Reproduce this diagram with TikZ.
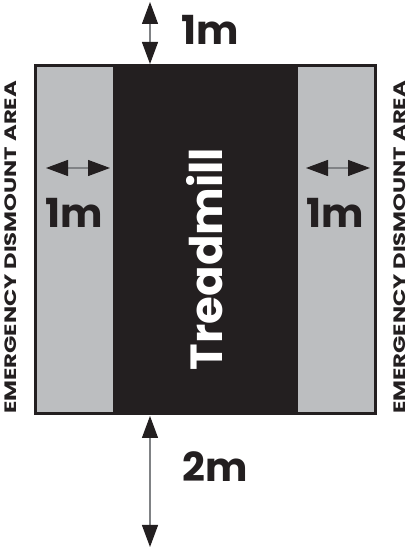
\documentclass[tikz,border=0pt]{standalone}
\usepackage{fontspec}
\usepackage{graphicx}
\setmainfont{Poppins}
\usetikzlibrary{arrows.meta,positioning}
\definecolor{lanegray}{HTML}{BCBEC0}
\definecolor{beltblack}{HTML}{231F20}
\definecolor{linegray}{HTML}{808285}
\tikzset{
  dimtip/.tip={Triangle[length=22pt,width=16pt,color=beltblack]},
  dimarrow/.style={draw=linegray, line width=1.2pt, dimtip-dimtip},
  lane/.style={fill=lanegray, inner sep=0pt, minimum height=348pt},
  bigtext/.style={font=\fontsize{40}{40}\selectfont\bfseries, text=beltblack, inner sep=0pt},
  sidetext/.style={font=\fontsize{16.5}{16.5}\selectfont\bfseries, text=beltblack, rotate=90, inner sep=0pt},
}
\newcommand{\widen}[1]{\scalebox{1.38}[1]{#1}}
\begin{document}
\begin{tikzpicture}[x=1pt,y=1pt]
  \useasboundingbox (0,0) rectangle (412,548);
  %%% floor area
  \node[lane, minimum width=340pt, anchor=south west] (area) at (35,134) {};
  \node[fill=beltblack, inner sep=0pt, minimum width=185pt, minimum height=348pt, anchor=south west] (belt) at (113,134) {};
  \draw[beltblack, line width=3pt] (area.south west) rectangle (area.north east);
  \node[rotate=90, font=\fontsize{45}{45}\selectfont\bfseries, text=white] (tread) at (205,289) {Treadmill};
  %%% clearances
  \coordinate (topend) at (150,546);
  \coordinate (topbox) at (150,484);
  \draw[dimarrow] (topend) -- (topbox);
  \node[bigtext, anchor=base] (toplabel) at (210,503) {1m};
  \coordinate (botbox) at (150,132);
  \coordinate (botend) at (150,1);
  \draw[dimarrow] (botbox) -- (botend);
  \node[bigtext, anchor=base] (botlabel) at (215,66) {2m};
  \coordinate (leftin) at (46,380);
  \coordinate (leftout) at (110,380);
  \draw[dimarrow] (leftin) -- (leftout);
  \node[bigtext, anchor=base] (leftlabel) at (74.5,320) {1m};
  \coordinate (rightin) at (306,380);
  \coordinate (rightout) at (370,380);
  \draw[dimarrow] (rightin) -- (rightout);
  \node[bigtext, anchor=base] (rightlabel) at (335,320) {1m};
  %%% side labels
  \node[sidetext] (leftside) at (11,300.5) {\widen{EMERGENCY DISMOUNT AREA}};
  \node[sidetext] (rightside) at (400,300.5) {\widen{EMERGENCY DISMOUNT AREA}};
\end{tikzpicture}
\end{document}
